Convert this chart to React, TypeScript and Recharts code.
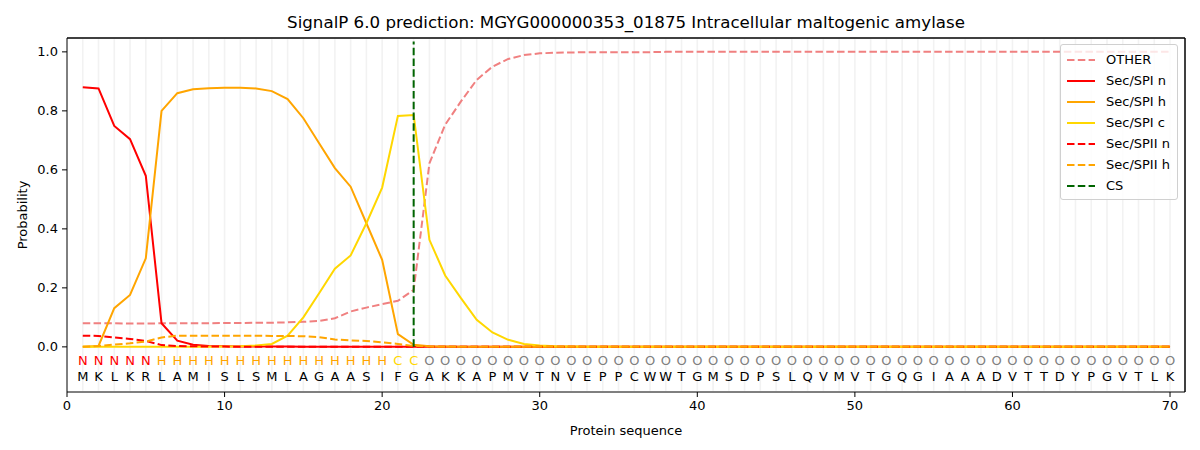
import React from "react";
import {
  ComposedChart,
  Legend,
  Line,
  ReferenceLine,
  Scatter,
  XAxis,
  YAxis,
} from "recharts";

const residues = "MKLKRLAMISLSMLAGAASIFGAKKAPMVTNVEPPCWWTGMSDPSLQVMVTGQGIAAADVTTDYPGVTLK".split("");
const regions = "NNNNNHHHHHHHHHHHHHHHCCOOOOOOOOOOOOOOOOOOOOOOOOOOOOOOOOOOOOOOOOOOOOOOOO".split("");

const other = [
  0.080, 0.080, 0.080, 0.079, 0.079, 0.080, 0.080, 0.080, 0.080, 0.081,
  0.081, 0.082, 0.082, 0.083, 0.085, 0.088, 0.097, 0.120, 0.133, 0.145,
  0.156, 0.193, 0.622, 0.753, 0.832, 0.905, 0.950, 0.976, 0.989, 0.995,
  0.997, 0.998, 0.999, 0.999, 0.999, 0.999, 0.999, 1.000, 1.000, 1.000,
  1.000, 1.000, 1.000, 1.000, 1.000, 1.000, 1.000, 1.000, 1.000, 1.000,
  1.000, 1.000, 1.000, 1.000, 1.000, 1.000, 1.000, 1.000, 1.000, 1.000,
  1.000, 1.000, 1.000, 1.000, 1.000, 1.000, 1.000, 1.000, 1.000, 1.000,
];
const spiN = [
  0.880, 0.876, 0.749, 0.704, 0.580, 0.080, 0.021, 0.007, 0.003, 0.002,
  0.001, 0.001, 0.001, 0.001, 0.000, 0.000, 0.000, 0.000, 0.000, 0.000,
  0.000, 0.000, 0.000, 0.000, 0.000, 0.000, 0.000, 0.000, 0.000, 0.000,
  0.000, 0.000, 0.000, 0.000, 0.000, 0.000, 0.000, 0.000, 0.000, 0.000,
  0.000, 0.000, 0.000, 0.000, 0.000, 0.000, 0.000, 0.000, 0.000, 0.000,
  0.000, 0.000, 0.000, 0.000, 0.000, 0.000, 0.000, 0.000, 0.000, 0.000,
  0.000, 0.000, 0.000, 0.000, 0.000, 0.000, 0.000, 0.000, 0.000, 0.000,
];
const spiH = [
  0.000, 0.003, 0.131, 0.176, 0.300, 0.800, 0.860, 0.873, 0.877, 0.878,
  0.878, 0.876, 0.867, 0.840, 0.775, 0.690, 0.606, 0.543, 0.419, 0.295,
  0.043, 0.007, 0.002, 0.001, 0.000, 0.000, 0.000, 0.000, 0.000, 0.000,
  0.000, 0.000, 0.000, 0.000, 0.000, 0.000, 0.000, 0.000, 0.000, 0.000,
  0.000, 0.000, 0.000, 0.000, 0.000, 0.000, 0.000, 0.000, 0.000, 0.000,
  0.000, 0.000, 0.000, 0.000, 0.000, 0.000, 0.000, 0.000, 0.000, 0.000,
  0.000, 0.000, 0.000, 0.000, 0.000, 0.000, 0.000, 0.000, 0.000, 0.000,
];
const spiC = [
  0.000, 0.000, 0.000, 0.000, 0.000, 0.000, 0.000, 0.000, 0.000, 0.001,
  0.002, 0.005, 0.010, 0.038, 0.100, 0.182, 0.265, 0.310, 0.419, 0.540,
  0.783, 0.786, 0.363, 0.242, 0.165, 0.092, 0.049, 0.024, 0.010, 0.005,
  0.002, 0.001, 0.000, 0.000, 0.000, 0.000, 0.000, 0.000, 0.000, 0.000,
  0.000, 0.000, 0.000, 0.000, 0.000, 0.000, 0.000, 0.000, 0.000, 0.000,
  0.000, 0.000, 0.000, 0.000, 0.000, 0.000, 0.000, 0.000, 0.000, 0.000,
  0.000, 0.000, 0.000, 0.000, 0.000, 0.000, 0.000, 0.000, 0.000, 0.000,
];
const spiiN = [
  0.038, 0.037, 0.032, 0.027, 0.020, 0.006, 0.003, 0.002, 0.001, 0.001,
  0.000, 0.000, 0.000, 0.000, 0.000, 0.000, 0.000, 0.000, 0.000, 0.000,
  0.000, 0.000, 0.000, 0.000, 0.000, 0.000, 0.000, 0.000, 0.000, 0.000,
  0.000, 0.000, 0.000, 0.000, 0.000, 0.000, 0.000, 0.000, 0.000, 0.000,
  0.000, 0.000, 0.000, 0.000, 0.000, 0.000, 0.000, 0.000, 0.000, 0.000,
  0.000, 0.000, 0.000, 0.000, 0.000, 0.000, 0.000, 0.000, 0.000, 0.000,
  0.000, 0.000, 0.000, 0.000, 0.000, 0.000, 0.000, 0.000, 0.000, 0.000,
];
const spiiH = [
  0.000, 0.003, 0.008, 0.012, 0.018, 0.032, 0.038, 0.038, 0.038, 0.038,
  0.038, 0.038, 0.037, 0.037, 0.036, 0.033, 0.025, 0.022, 0.020, 0.015,
  0.010, 0.003, 0.001, 0.000, 0.000, 0.000, 0.000, 0.000, 0.000, 0.000,
  0.000, 0.000, 0.000, 0.000, 0.000, 0.000, 0.000, 0.000, 0.000, 0.000,
  0.000, 0.000, 0.000, 0.000, 0.000, 0.000, 0.000, 0.000, 0.000, 0.000,
  0.000, 0.000, 0.000, 0.000, 0.000, 0.000, 0.000, 0.000, 0.000, 0.000,
  0.000, 0.000, 0.000, 0.000, 0.000, 0.000, 0.000, 0.000, 0.000, 0.000,
];

const csPos = 22;
const xDomain = [0, 70.95];
const yDomain = [-0.153, 1.047];
const xTicks = [0, 10, 20, 30, 40, 50, 60, 70];
const yTicks = [0, 0.2, 0.4, 0.6, 0.8, 1.0];

const DASH = "7.5 3.3";
const regionColors: Record<string, string> = {
  N: "#ff0000",
  H: "#ffa500",
  C: "#ffd700",
  O: "#808080",
};

const series = [
  { key: "other", name: "OTHER", color: "#f08080", dash: DASH },
  { key: "spiN", name: "Sec/SPI n", color: "#ff0000", dash: undefined },
  { key: "spiH", name: "Sec/SPI h", color: "#ffa500", dash: undefined },
  { key: "spiC", name: "Sec/SPI c", color: "#ffd700", dash: undefined },
  { key: "spiiN", name: "Sec/SPII n", color: "#ff0000", dash: DASH },
  { key: "spiiH", name: "Sec/SPII h", color: "#ffa500", dash: DASH },
];
const legendItems = [...series, { key: "cs", name: "CS", color: "#006400", dash: DASH }];

const rows = residues.map((aa, i) => ({
  pos: i + 1,
  aa,
  region: regions[i],
  other: other[i],
  spiN: spiN[i],
  spiH: spiH[i],
  spiC: spiC[i],
  spiiN: spiiN[i],
  spiiH: spiiH[i],
  regionY: -0.047,
  aaY: -0.1,
}));

const RegionMark = (props: any) => (
  <text
    x={props.cx}
    y={props.cy}
    textAnchor="middle"
    dominantBaseline="central"
    fontSize={13}
    fill={regionColors[props.payload.region]}
  >
    {props.payload.region}
  </text>
);

const ResidueMark = (props: any) => (
  <text
    x={props.cx}
    y={props.cy}
    textAnchor="middle"
    dominantBaseline="central"
    fontSize={13}
    fill="#000"
  >
    {props.payload.aa}
  </text>
);

const LegendBox = () => (
  <div
    style={{
      border: "1px solid #d0d0d0",
      borderRadius: 3,
      background: "rgba(255,255,255,0.8)",
      padding: "4px 6px 3px 6px",
      fontSize: 13,
    }}
  >
    {legendItems.map((it) => (
      <div key={it.key} style={{ display: "flex", alignItems: "center", height: 21 }}>
        <svg width={28} height={10} style={{ marginRight: 11 }}>
          <line
            x1={0}
            y1={5}
            x2={28}
            y2={5}
            stroke={it.color}
            strokeWidth={2}
            strokeDasharray={it.dash}
          />
        </svg>
        <span>{it.name}</span>
      </div>
    ))}
  </div>
);

export default function App() {
  return (
    <div
      style={{
        position: "absolute",
        left: 0,
        top: 0,
        width: 1200,
        height: 450,
        background: "#fff",
        fontFamily: "'DejaVu Sans', sans-serif",
      }}
    >
      <div
        style={{
          position: "absolute",
          top: 13,
          left: 67,
          width: 1118,
          textAlign: "center",
          fontSize: 16.67,
        }}
      >
        SignalP 6.0 prediction: MGYG000000353_01875 Intracellular maltogenic amylase
      </div>
      <ComposedChart
        width={1200}
        height={450}
        data={rows}
        margin={{ top: 38, right: 15, left: 0, bottom: 0 }}
      >
        <XAxis
          dataKey="pos"
          type="number"
          domain={xDomain}
          ticks={xTicks}
          allowDataOverflow
          height={58}
          tickSize={5}
          tickMargin={4}
          stroke="#000"
          tick={{ fill: "#000", fontSize: 13 }}
          label={{ value: "Protein sequence", position: "insideBottom", offset: 15, fill: "#000", fontSize: 13 }}
        />
        <YAxis
          type="number"
          domain={yDomain}
          ticks={yTicks}
          allowDataOverflow
          width={67}
          tickSize={5}
          tickMargin={4}
          stroke="#000"
          tick={{ fill: "#000", fontSize: 13 }}
          tickFormatter={(v: number) => v.toFixed(1)}
          label={{
            content: ({ viewBox }: any) => (
              <text
                x={22}
                y={viewBox.y + viewBox.height / 2}
                transform={`rotate(-90, 22, ${viewBox.y + viewBox.height / 2})`}
                textAnchor="middle"
                dominantBaseline="central"
                fontSize={13}
                fill="#000"
              >
                Probability
              </text>
            ),
          }}
        />
        {rows.map((r) => (
          <ReferenceLine
            key={r.pos}
            segment={[
              { x: r.pos, y: yDomain[0] + 0.004 },
              { x: r.pos, y: yDomain[1] - 0.004 },
            ]}
            stroke="#f2f2f2"
            strokeWidth={1.6}
          />
        ))}
        {series.map((s) => (
          <Line
            key={s.key}
            dataKey={s.key}
            name={s.name}
            type="linear"
            stroke={s.color}
            strokeWidth={2}
            strokeDasharray={s.dash}
            dot={false}
            activeDot={false}
            isAnimationActive={false}
          />
        ))}
        <ReferenceLine
          segment={[
            { x: csPos, y: 0 },
            { x: csPos, y: 1.035 },
          ]}
          stroke="#006400"
          strokeWidth={2}
          strokeDasharray={DASH}
        />
        <Scatter dataKey="regionY" shape={RegionMark} isAnimationActive={false} />
        <Scatter dataKey="aaY" shape={ResidueMark} isAnimationActive={false} />
        <ReferenceLine y={yDomain[1]} ifOverflow="visible" stroke="#000" strokeWidth={1.5} />
        <ReferenceLine x={xDomain[1]} ifOverflow="visible" stroke="#000" strokeWidth={1.5} />
        <Legend
          layout="horizontal"
          verticalAlign="middle"
          align="center"
          content={<LegendBox />}
          wrapperStyle={{ position: "absolute", top: 44, left: 1060, width: 118 }}
        />
      </ComposedChart>
    </div>
  );
}
